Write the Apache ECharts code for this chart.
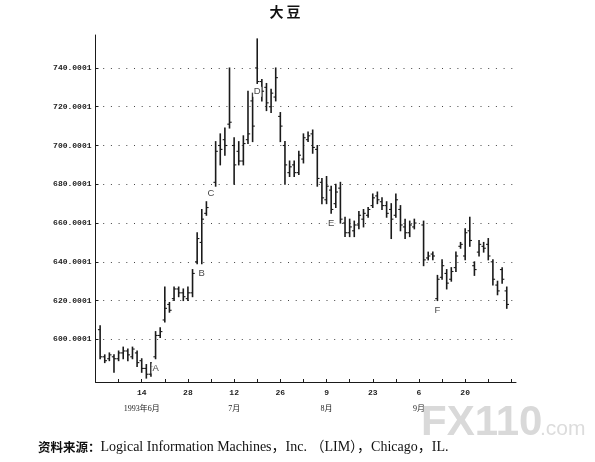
<!DOCTYPE html>
<html><head><meta charset="utf-8">
<script src="https://cdn.jsdelivr.net/npm/echarts@6/dist/echarts.min.js"></script>
<style>html,body{margin:0;padding:0;background:#fff}#c{width:595px;height:462px}</style>
</head><body><div id="c"></div>
<script>
// Trading-day categories (weekdays), 31 May 1993 - 5 Oct 1993
const dates = [
 '1993-05-31',
 '1993-06-01','1993-06-02','1993-06-03','1993-06-04',
 '1993-06-07','1993-06-08','1993-06-09','1993-06-10','1993-06-11',
 '1993-06-14','1993-06-15','1993-06-16','1993-06-17','1993-06-18',
 '1993-06-21','1993-06-22','1993-06-23','1993-06-24','1993-06-25',
 '1993-06-28','1993-06-29','1993-06-30','1993-07-01','1993-07-02',
 '1993-07-05','1993-07-06','1993-07-07','1993-07-08','1993-07-09',
 '1993-07-12','1993-07-13','1993-07-14','1993-07-15','1993-07-16',
 '1993-07-19','1993-07-20','1993-07-21','1993-07-22','1993-07-23',
 '1993-07-26','1993-07-27','1993-07-28','1993-07-29','1993-07-30',
 '1993-08-02','1993-08-03','1993-08-04','1993-08-05','1993-08-06',
 '1993-08-09','1993-08-10','1993-08-11','1993-08-12','1993-08-13',
 '1993-08-16','1993-08-17','1993-08-18','1993-08-19','1993-08-20',
 '1993-08-23','1993-08-24','1993-08-25','1993-08-26','1993-08-27',
 '1993-08-30','1993-08-31','1993-09-01','1993-09-02','1993-09-03',
 '1993-09-06','1993-09-07','1993-09-08','1993-09-09','1993-09-10',
 '1993-09-13','1993-09-14','1993-09-15','1993-09-16','1993-09-17',
 '1993-09-20','1993-09-21','1993-09-22','1993-09-23','1993-09-24',
 '1993-09-27','1993-09-28','1993-09-29','1993-09-30','1993-10-01',
 '1993-10-04','1993-10-05'
];
const highs = [null,
 607,592,593,592,594,596,595,596,594,590,587,588,604,606,627,619,627,627,626,627,
 636,655,667,671,null,702,706,709,740,704,702,705,728,727,755,734,732,729,740,717,
 702,692,692,697,706,707,708,700,683,684,679,680,681,663,662,661,666,667,668,675,
 676,673,671,670,675,669,662,661,662,null,661,645,645,633,641,636,637,645,650,657,
 663,640,651,650,652,641,630,637,627,null,null];
const lows = [null,
 590,588,589,583,589,590,589,590,586,583,580,581,590,601,609,614,620,622,620,620,
 622,639,639,664,null,679,690,695,709,680,690,690,701,702,732,723,718,717,723,702,
 680,684,684,685,691,702,696,679,670,670,665,668,660,653,653,653,657,658,663,668,
 670,667,663,652,663,656,652,653,657,null,638,641,641,620,631,626,630,635,647,641,
 648,633,643,645,641,628,623,629,616,null,null];
const opens = [null,
 605,591,590,591,590,593,594,591,593,589,585,582,591,602,610,618,621,626,624,621,
 624,640,650,665,null,681,700,703,711,700,697,692,703,723,740,733,730,720,725,715,
 700,686,690,686,693,703,706,698,681,672,677,670,678,660,655,656,659,662,664,669,
 674,671,669,667,664,667,658,655,658,null,659,642,644,621,632,634,631,637,648,643,
 656,638,645,648,649,640,628,636,625,null,null];
const closes = [null,
 591,589,592,590,593,594,592,595,588,585,582,586,602,604,616,615,626,624,622,624,
 634,652,662,668,null,697,698,700,712,690,692,701,706,710,733,728,722,727,735,710,
 690,689,686,695,704,705,699,683,673,679,667,676,662,655,658,659,664,665,667,673,
 672,669,665,662,672,659,655,659,660,null,641,643,643,631,638,629,635,643,649,655,
 651,636,649,647,643,631,625,631,618,null,null];

const yTicks = [600,620,640,660,680,700,720,740];
const dayLabels = ['14','28','12','26','9','23','6','20'];
const monthLabels = ['1993年6月','','7月','','8月','','9月',''];
const pointLetters = ['A','B','C','D','E','F'];
const pointIdx = [13,23,25,35,51,74];
const pointVals = [585,634,675.5,727.7,660,615];

const ohlc = [];
for (let i = 0; i < dates.length; i++) {
  if (highs[i] == null) continue;
  ohlc.push([i, opens[i], closes[i], lows[i], highs[i]]);
}
const letterData = pointLetters.map((t, k) => ({value: [pointIdx[k], pointVals[k]], name: t}));

const chart = echarts.init(document.getElementById('c'), null, {renderer: 'canvas'});
const ink = '#1a1a1a';
chart.setOption({
  backgroundColor: '#ffffff',
  animation: false,
  grid: {left: 95.5, right: 79, top: 35, bottom: 80, containLabel: false},
  xAxis: {
    type: 'category', data: dates, boundaryGap: false,
    axisLine: {lineStyle: {color: ink, width: 1}},
    axisTick: {inside: true, length: 3, lineStyle: {color: ink}, interval: (i) => i % 5 === 0},
    splitLine: {show: false},
    axisLabel: {
      interval: (i) => i % 10 === 0 && i > 0 && (i / 10 - 1) < dayLabels.length,
      margin: 4,
      formatter: (v, i) => {
        const k = i / 10 - 1;
        if (k < 0 || k >= dayLabels.length) return '';
        return '{d|' + dayLabels[k] + '}\n{m|' + (monthLabels[k] || ' ') + '}';
      },
      rich: {
        d: {fontFamily: 'Liberation Mono', fontWeight: 'bold', fontSize: 8, lineHeight: 14, color: '#222'},
        m: {fontFamily: 'Liberation Serif, Noto Sans CJK SC', fontSize: 8, lineHeight: 17, color: '#222'}
      }
    }
  },
  yAxis: {
    type: 'value', min: 578, max: 757,
    axisLine: {show: true, lineStyle: {color: ink, width: 1}},
    axisTick: {show: true, inside: true, length: 3, customValues: yTicks, lineStyle: {color: ink}},
    axisLabel: {
      customValues: yTicks, margin: 4,
      formatter: (v) => v + '.0001',
      fontFamily: 'Liberation Mono', fontSize: 8, fontWeight: 'bold', color: '#222'
    },
    splitLine: {show: true, lineStyle: {color: '#444', width: 1, type: [1, 6.7]}}
  },
  series: [
    {
      type: 'custom',
      data: ohlc,
      encode: {x: 0, y: [1, 2, 3, 4]},
      renderItem: (params, api) => {
        const i = api.value(0);
        const top = api.coord([i, api.value(4)]);
        const bot = api.coord([i, api.value(3)]);
        const po = api.coord([i, api.value(1)]);
        const pc = api.coord([i, api.value(2)]);
        const st = {stroke: ink, lineWidth: 1.6};
        return {type: 'group', children: [
          {type: 'line', shape: {x1: top[0], y1: top[1] - 0.5, x2: bot[0], y2: bot[1] + 0.5}, style: st},
          {type: 'line', shape: {x1: po[0] - 2.2, y1: po[1], x2: po[0], y2: po[1]}, style: {stroke: ink, lineWidth: 1.1}},
          {type: 'line', shape: {x1: pc[0], y1: pc[1], x2: pc[0] + 2.2, y2: pc[1]}, style: {stroke: ink, lineWidth: 1.1}}
        ]};
      },
      z: 3
    },
    {
      type: 'scatter', data: letterData, symbolSize: 0,
      label: {show: true, position: 'inside', formatter: (p) => p.name,
        fontFamily: 'Liberation Sans', fontSize: 9.5, color: '#111', backgroundColor: '#fff', padding: [0, 1]},
      z: 4
    }
  ],
  graphic: [
    {type: 'text', x: 285, y: 12, z: 10,
      style: {text: '大 豆', fontFamily: 'Noto Sans CJK SC', fontSize: 14, fontWeight: 'bold', fill: '#111',
        align: 'center', verticalAlign: 'middle'}},
    {type: 'text', x: 38, y: 447, z: 10,
      style: {
        text: '{b|资料来源：}{t|Logical Information Machines，Inc. （LIM），Chicago，IL.}',
        verticalAlign: 'middle',
        rich: {
          b: {fontFamily: 'Noto Sans CJK SC', fontWeight: 'bold', fontSize: 12.5, fill: '#111'},
          t: {fontFamily: 'Liberation Serif, Noto Sans CJK SC', fontSize: 14, fill: '#111'}
        }
      }},
    {type: 'text', left: 421, top: 402, z: 20,
      style: {text: 'FX110', fontFamily: 'Liberation Sans', fontWeight: 'bold', fontSize: 42, fill: '#d9d9d9'}},
    {type: 'text', left: 540, top: 419, z: 20,
      style: {text: '.com', fontFamily: 'Liberation Sans', fontSize: 21, fill: '#dcdcdc'}}
  ]
});
</script>
</body></html>
